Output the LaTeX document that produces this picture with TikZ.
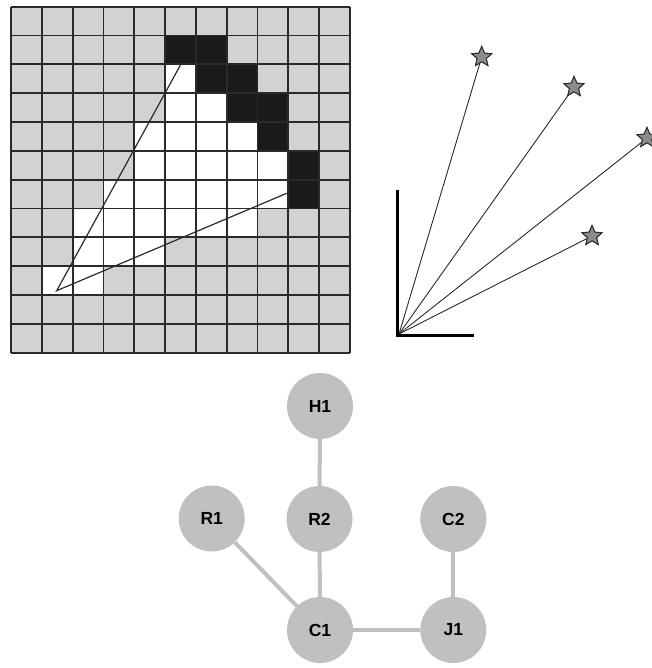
\documentclass[tikz,border=0pt]{standalone}
\usepackage{fontspec}
\setmainfont{Liberation Sans}
\usetikzlibrary{shapes.geometric}
\definecolor{cellgray}{HTML}{D2D2D2}
\definecolor{gridline}{HTML}{2A2A2A}
\definecolor{cellblack}{HTML}{1A1A1A}
\definecolor{nodegray}{HTML}{C0C0C0}
\definecolor{stargray}{HTML}{8C8C8C}
\tikzset{
  gnode/.style={circle,fill=nodegray,minimum size=66pt,inner sep=0pt,font=\fontsize{17.5}{19}\selectfont\bfseries},
  gedge/.style={draw=nodegray,line width=4pt},
  starnode/.style={star,star points=5,star point ratio=2.2,fill=stargray,draw=gridline,line width=0.9pt,minimum size=21pt,inner sep=0pt},
  ray/.style={draw=gridline,line width=0.9pt},
  axis/.style={draw=black,line width=3pt},
  tri/.style={draw=gridline,line width=1.2pt}
}
\begin{document}
\begin{tikzpicture}[x=1pt,y=-1pt]
\useasboundingbox (0,0) rectangle (651,668);
% grid
\def\gx{11}\def\gy{6.7}\def\cw{30.8}\def\ch{28.83}
\fill[cellgray] (\gx,\gy) rectangle ({\gx+11*\cw},{\gy+12*\ch});
\foreach \c/\r in {5/2,5/3,6/3,4/4,5/4,6/4,7/4,4/5,5/5,6/5,7/5,8/5,3/6,4/6,5/6,6/6,7/6,8/6,2/7,3/7,4/7,5/7,6/7,7/7,2/8,3/8,4/8,1/9,2/9}
  \fill[white] ({\gx+\c*\cw},{\gy+\r*\ch}) rectangle ({\gx+(\c+1)*\cw},{\gy+(\r+1)*\ch});
\foreach \c/\r in {5/1,6/1,6/2,7/2,7/3,8/3,8/4,9/5,9/6}
  \fill[cellblack] ({\gx+\c*\cw},{\gy+\r*\ch}) rectangle ({\gx+(\c+1)*\cw},{\gy+(\r+1)*\ch});
\foreach \i in {0,...,11}
  \draw[gridline,line width=1.8pt] ({\gx+\i*\cw},\gy) -- ({\gx+\i*\cw},{\gy+12*\ch});
\foreach \j in {0,...,12}
  \draw[gridline,line width=1.8pt] (\gx,{\gy+\j*\ch}) -- ({\gx+11*\cw},{\gy+\j*\ch});
% triangle
\coordinate (ta) at (56.7,290.7);
\coordinate (tb) at (181.7,62.7);
\coordinate (tc) at (286.7,193.3);
\draw[tri] (tb) -- (ta) -- (tc);
% axes and stars
\coordinate (o) at (399,334);
\coordinate (ytop) at (397.7,190);
\coordinate (xend) at (473.5,335);
\draw[axis] (ytop) -- (397.7,335) -- (xend);
\node[starnode] (s1) at (481.7,57) {};
\node[starnode] (s2) at (574,87) {};
\node[starnode] (s3) at (647,138) {};
\node[starnode] (s4) at (592,236) {};
\foreach \s in {s1,s2,s3,s4}
  \draw[ray] (o) -- (\s.center);
\foreach \s in {s1,s2,s3,s4}
  \node[starnode] at (\s) {};
% graph
\node[gnode] (H1) at (320,406) {H1};
\node[gnode] (R1) at (211.7,518.5) {R1};
\node[gnode] (R2) at (319.5,519) {R2};
\node[gnode] (C2) at (453.3,519) {C2};
\node[gnode] (C1) at (320,630) {C1};
\node[gnode] (J1) at (453.3,630) {J1};
\draw[gedge] (H1) -- (R2);
\draw[gedge] (R2) -- (C1);
\draw[gedge] (R1) -- (C1);
\draw[gedge] (C1) -- (J1);
\draw[gedge] (C2) -- (J1);
\end{tikzpicture}
\end{document}
